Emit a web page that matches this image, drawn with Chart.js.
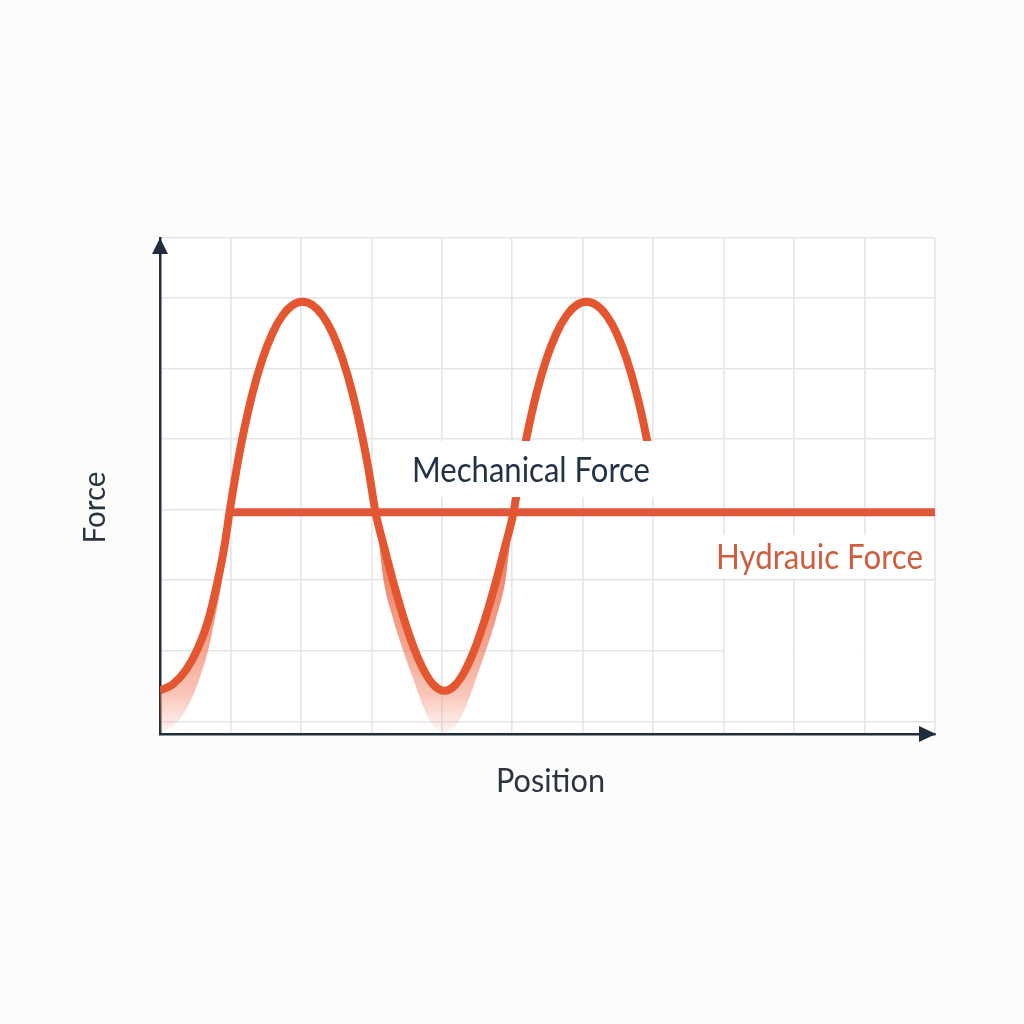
<!DOCTYPE html>
<html>
<head>
<meta charset="utf-8">
<script src="https://cdn.jsdelivr.net/npm/chart.js@4.4.1/dist/chart.umd.min.js"></script>
<style>
  html, body { margin: 0; padding: 0; background: #fcfcfa; }
  #wrap { position: relative; width: 1024px; height: 1024px; }
</style>
</head>
<body>
<div id="wrap"><canvas id="c"></canvas></div>
<script>
// ---- data ----
const mechPosition = [0, 0.185, 0.369, 0.539, 0.681, 0.809, 0.909, 0.987,
  1.086, 1.171, 1.313, 1.455, 1.597, 1.739, 1.881, 2.023, 2.165, 2.307, 2.449, 2.590, 2.732, 2.874, 2.960, 3.059,
  3.187, 3.329, 3.471, 3.612, 3.754, 3.896, 4.038, 4.180, 4.322, 4.464, 4.606, 4.748, 4.890, 5.018,
  5.117, 5.202, 5.344, 5.486, 5.628, 5.770, 5.912, 6.054, 6.196, 6.338, 6.480, 6.622, 6.764, 6.906, 6.991];
const mechForce = [0.616, 0.708, 0.907, 1.218, 1.601, 2.125, 2.627, 3.144,
  3.749, 4.201, 4.829, 5.317, 5.680, 5.931, 6.078, 6.126, 6.078, 5.931, 5.680, 5.317, 4.829, 4.201, 3.749, 3.144,
  2.629, 2.088, 1.605, 1.198, 0.885, 0.684, 0.613, 0.684, 0.885, 1.198, 1.605, 2.088, 2.629, 3.144,
  3.749, 4.201, 4.829, 5.317, 5.680, 5.931, 6.078, 6.126, 6.078, 5.931, 5.680, 5.317, 4.829, 4.201, 3.749];
const shadowPosition = [0, 0.185, 0.369, 0.539, 0.681, 0.781, 0.880, 0.951, 0.987, 2.0,
  3.059, 3.116, 3.172, 3.300, 3.456, 3.584, 3.726, 3.868, 4.038, 4.209, 4.351, 4.493, 4.620, 4.776, 4.904, 4.961, 5.018];
const shadowForce = [0.028, 0.113, 0.340, 0.722, 1.176, 1.643, 2.167, 2.649, 3.144, null,
  3.144, 2.649, 2.181, 1.657, 1.166, 0.807, 0.411, 0.127, 0.028, 0.127, 0.411, 0.807, 1.166, 1.657, 2.181, 2.649, 3.144];
const hydraulicPosition = [0.987, 11];
const hydraulicForce = [3.144, 3.144];
const positionGrid = [0, 1, 2, 3, 4, 5, 6, 7, 8, 9, 10, 11];
const forceGrid = [0.18, 1.18, 2.18, 3.18, 4.18, 5.18, 6.18, 7.03];
const xTitle = 'Position';
const yTitle = 'Force';
const mechLabel = 'Mechanical Force';
const hydLabel = 'Hydrauic Force';

const toXY = (xs, ys) => xs.map((x, i) => ({ x: x, y: ys[i] }));

const AREA_BG = '#ffffff';
const AXIS = '#1f2d3d';
const GRID = '#e3e5ea';

function fitText(ctx, text, size, width, color) {
  ctx.font = size + 'px Lato';
  ctx.fillStyle = color;
  ctx.textBaseline = 'alphabetic';
  ctx.textAlign = 'left';
  const w = ctx.measureText(text).width;
  ctx.scale(width / w, 1);
  ctx.fillText(text, 0, 0);
}

const decor = {
  id: 'decor',
  beforeDraw(chart) {
    const { ctx, chartArea: a } = chart;
    ctx.save();
    ctx.fillStyle = AREA_BG;
    ctx.fillRect(a.left, a.top, a.right - a.left, a.bottom - a.top);
    ctx.restore();
  },
  beforeDatasetsDraw(chart) {
    // the reference's gridline at the second row stops short on the right
    const { ctx } = chart;
    const xs = chart.scales.x, ys = chart.scales.y;
    const yy = ys.getPixelForValue(forceGrid[1]);
    ctx.save();
    ctx.fillStyle = AREA_BG;
    for (let k = 8; k < 11; k++) {
      const x0 = xs.getPixelForValue(k) + 1.2, x1 = xs.getPixelForValue(k + 1) - 1.2;
      ctx.fillRect(x0, yy - 2, x1 - x0, 4);
    }
    ctx.restore();
  },
  afterDatasetsDraw(chart) {
    const { ctx } = chart;
    ctx.save();
    ctx.fillStyle = AREA_BG;
    ctx.fillRect(398, 441, 266, 56);
    ctx.fillRect(702, 535, 228, 43);
    ctx.restore();

    ctx.save(); ctx.translate(412, 481.5); fitText(ctx, mechLabel, 35.5, 238, '#223246'); ctx.restore();
    ctx.save(); ctx.translate(716, 569.3); fitText(ctx, hydLabel, 34, 207, '#cf5d3e'); ctx.restore();
  },
  afterDraw(chart) {
    const { ctx, chartArea: a } = chart;
    ctx.save();
    ctx.fillStyle = AXIS;
    ctx.beginPath();
    ctx.moveTo(a.left, a.top);
    ctx.lineTo(a.left - 8, a.top + 16);
    ctx.lineTo(a.left + 8, a.top + 16);
    ctx.closePath(); ctx.fill();
    ctx.beginPath();
    ctx.moveTo(a.right + 1, a.bottom);
    ctx.lineTo(a.right - 16, a.bottom - 8);
    ctx.lineTo(a.right - 16, a.bottom + 8);
    ctx.closePath(); ctx.fill();
    ctx.restore();

    ctx.save(); ctx.translate(496, 792); fitText(ctx, xTitle, 33, 109, '#2a3542'); ctx.restore();
    ctx.save(); ctx.translate(105, 543.5); ctx.rotate(-Math.PI / 2); fitText(ctx, yTitle, 30, 72, '#2a3542'); ctx.restore();
  }
};

function shadowFill(context) {
  const chart = context.chart;
  const a = chart.chartArea;
  if (!a) return 'rgba(238,110,75,0.4)';
  const top = chart.scales.y.getPixelForValue(hydraulicForce[0]);
  const g = chart.ctx.createLinearGradient(0, top, 0, a.bottom);
  g.addColorStop(0, 'rgba(230,85,45,0.85)');
  g.addColorStop(0.6, 'rgba(236,105,70,0.6)');
  g.addColorStop(0.82, 'rgba(240,125,95,0.45)');
  g.addColorStop(1, 'rgba(246,160,140,0.1)');
  return g;
}

function build() {
  new Chart(document.getElementById('c'), {
    type: 'line',
    data: {
      datasets: [
        {
          label: mechLabel,
          data: toXY(mechPosition, mechForce),
          borderColor: '#e4562f',
          borderWidth: 8,
          cubicInterpolationMode: 'monotone',
          borderCapStyle: 'butt',
          borderJoinStyle: 'round',
          pointRadius: 0,
          fill: false
        },
        {
          label: 'shade',
          data: toXY(shadowPosition, shadowForce),
          borderWidth: 0,
          borderColor: 'rgba(0,0,0,0)',
          backgroundColor: shadowFill,
          cubicInterpolationMode: 'monotone',
          spanGaps: false,
          pointRadius: 0,
          fill: '-1'
        },
        {
          label: hydLabel,
          data: toXY(hydraulicPosition, hydraulicForce),
          borderColor: '#e1573a',
          borderWidth: 8,
          borderCapStyle: 'butt',
          pointRadius: 0,
          fill: false
        }
      ]
    },
    options: {
      responsive: true,
      maintainAspectRatio: false,
      animation: false,
      layout: { padding: { left: 160, top: 238, right: 89, bottom: 290 } },
      plugins: { legend: { display: false }, tooltip: { enabled: false } },
      scales: {
        x: {
          type: 'linear', min: 0, max: 11,
          afterBuildTicks: s => { s.ticks = positionGrid.map(v => ({ value: v })); },
          ticks: { display: false },
          grid: { color: GRID, lineWidth: 1.6, drawTicks: false },
          border: { display: true, color: AXIS, width: 2.5 }
        },
        y: {
          type: 'linear', min: 0, max: 7.03,
          afterBuildTicks: s => { s.ticks = forceGrid.map(v => ({ value: v })); },
          ticks: { display: false },
          grid: { color: GRID, lineWidth: 1.6, drawTicks: false },
          border: { display: true, color: AXIS, width: 2.5 }
        }
      }
    },
    plugins: [decor]
  });
}

Promise.race([
  document.fonts.load('35px Lato'),
  new Promise(r => setTimeout(r, 800))
]).then(build, build);
</script>
</body>
</html>
